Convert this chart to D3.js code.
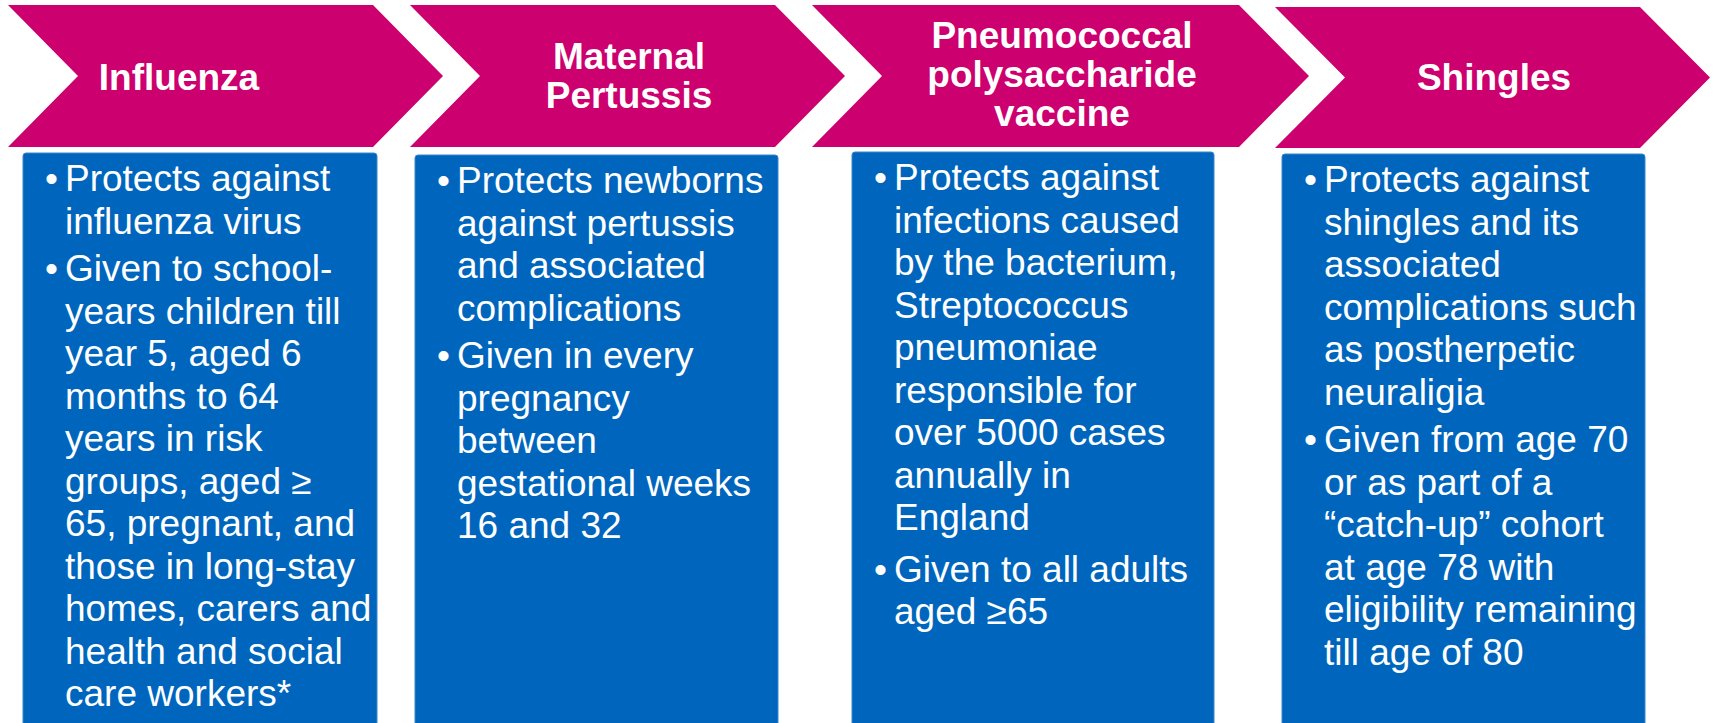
<!DOCTYPE html>
<html lang="en">
<head>
    <meta charset="UTF-8">
    <title>Adult and maternal vaccination programmes</title>
    <style>
        html, body { margin: 0; padding: 0; background: #fff; }
        svg { display: block; }
        text { font-family: 'Liberation Sans', Arial, Helvetica, sans-serif; fill: #fff; }
        .head { font-weight: bold; font-size: 37px; }
        .body { font-size: 37px; }
    </style>
    <script src="https://d3js.org/d3.v7.min.js"></script>
</head>
<body>
    <svg id="graph" width="1715" height="723"></svg>
    <script>
        // programmes, left to right
        let programmes = ["Influenza", "Maternal Pertussis", "Pneumococcal polysaccharide vaccine", "Shingles"];

        // header lines as they break in the chevrons
        let headerLines = [
            ["Influenza"],
            ["Maternal", "Pertussis"],
            ["Pneumococcal", "polysaccharide", "vaccine"],
            ["Shingles"]
        ];

        // bullet points, each one a list of wrapped lines
        let influenzaPoints = [
            ["Protects against", "influenza virus"],
            ["Given to school-", "years children till", "year 5, aged 6", "months to 64", "years in risk",
             "groups, aged \u2265", "65, pregnant, and", "those in long-stay", "homes, carers and",
             "health and social", "care workers*"]
        ];
        let pertussisPoints = [
            ["Protects newborns", "against pertussis", "and associated", "complications"],
            ["Given in every", "pregnancy", "between", "gestational weeks", "16 and 32"]
        ];
        let pneumococcalPoints = [
            ["Protects against", "infections caused", "by the bacterium,", "Streptococcus", "pneumoniae",
             "responsible for", "over 5000 cases", "annually in", "England"],
            ["Given to all adults", "aged \u226565"]
        ];
        let shinglesPoints = [
            ["Protects against", "shingles and its", "associated", "complications such", "as postherpetic", "neuraligia"],
            ["Given from age 70", "or as part of a", "\u201Ccatch-up\u201D cohort", "at age 78 with",
             "eligibility remaining", "till age of 80"]
        ];
        let points = [influenzaPoints, pertussisPoints, pneumococcalPoints, shinglesPoints];

        let magenta = "#cc006e",
            blue = "#0066bd";

        let svg = d3.select("#graph");

        // chevron geometry per programme
        let chevLeft = d3.scaleOrdinal().domain(programmes).range([8, 410, 812, 1275]);
        let chevRight = d3.scaleOrdinal().domain(programmes).range([443, 845, 1309, 1710]);
        let chevTop = d3.scaleOrdinal().domain(programmes).range([5, 5, 5, 7]);
        let chevBottom = d3.scaleOrdinal().domain(programmes).range([147, 147, 147, 148]);
        let headX = d3.scaleOrdinal().domain(programmes).range([179, 629, 1062, 1494]);
        let depth = 70;

        // box geometry per programme
        let boxLeft = d3.scaleOrdinal().domain(programmes).range([23, 415, 852, 1282]);
        let boxRight = d3.scaleOrdinal().domain(programmes).range([377, 778, 1214, 1645]);
        let boxTop = d3.scaleOrdinal().domain(programmes).range([153, 155, 152, 154]);
        let paraGap = d3.scaleOrdinal().domain(programmes).range([5, 5, 9, 5]);
        let boxBottom = 722;

        let chevron = function(p) {
            let l = chevLeft(p), r = chevRight(p), t = chevTop(p), b = chevBottom(p), m = (t + b) / 2;
            return d3.line()([[l, t], [r - depth, t], [r, m], [r - depth, b], [l, b], [l + depth, m]]) + "Z";
        };

        let cols = svg.selectAll(".col")
            .data(programmes)
            .enter()
            .append("g")
            .attr("class", "col");

        cols.append("path")
            .attr("d", chevron)
            .attr("fill", magenta);

        cols.append("rect")
            .attr("x", d => boxLeft(d))
            .attr("y", d => boxTop(d))
            .attr("width", d => boxRight(d) - boxLeft(d))
            .attr("height", d => boxBottom - boxTop(d) + 4)
            .attr("rx", 3)
            .attr("fill", blue)
            .attr("stroke", "#3a86cc")
            .attr("stroke-width", 1);

        // headers
        let headLh = 39;
        cols.each(function(p, i) {
            let lines = headerLines[i];
            let first = 90 - (lines.length - 1) * 21;
            d3.select(this).selectAll(".head")
                .data(lines)
                .enter()
                .append("text")
                .attr("class", "head")
                .attr("x", headX(p))
                .attr("y", (d, j) => first + j * headLh)
                .attr("text-anchor", "middle")
                .text(d => d);
        });

        // bullet text
        let lh = 42.5;
        cols.each(function(p, i) {
            let g = d3.select(this);
            let y = boxTop(p) + 38;
            let x0 = boxLeft(p);
            points[i].forEach(function(lines, k) {
                if (k > 0) y += paraGap(p);
                g.append("text")
                    .attr("class", "body")
                    .attr("x", x0 + 22)
                    .attr("y", y)
                    .text("\u2022");
                lines.forEach(function(line) {
                    g.append("text")
                        .attr("class", "body")
                        .attr("x", x0 + 42)
                        .attr("y", y)
                        .text(line);
                    y += lh;
                });
            });
        });
    </script>
</body>
</html>
